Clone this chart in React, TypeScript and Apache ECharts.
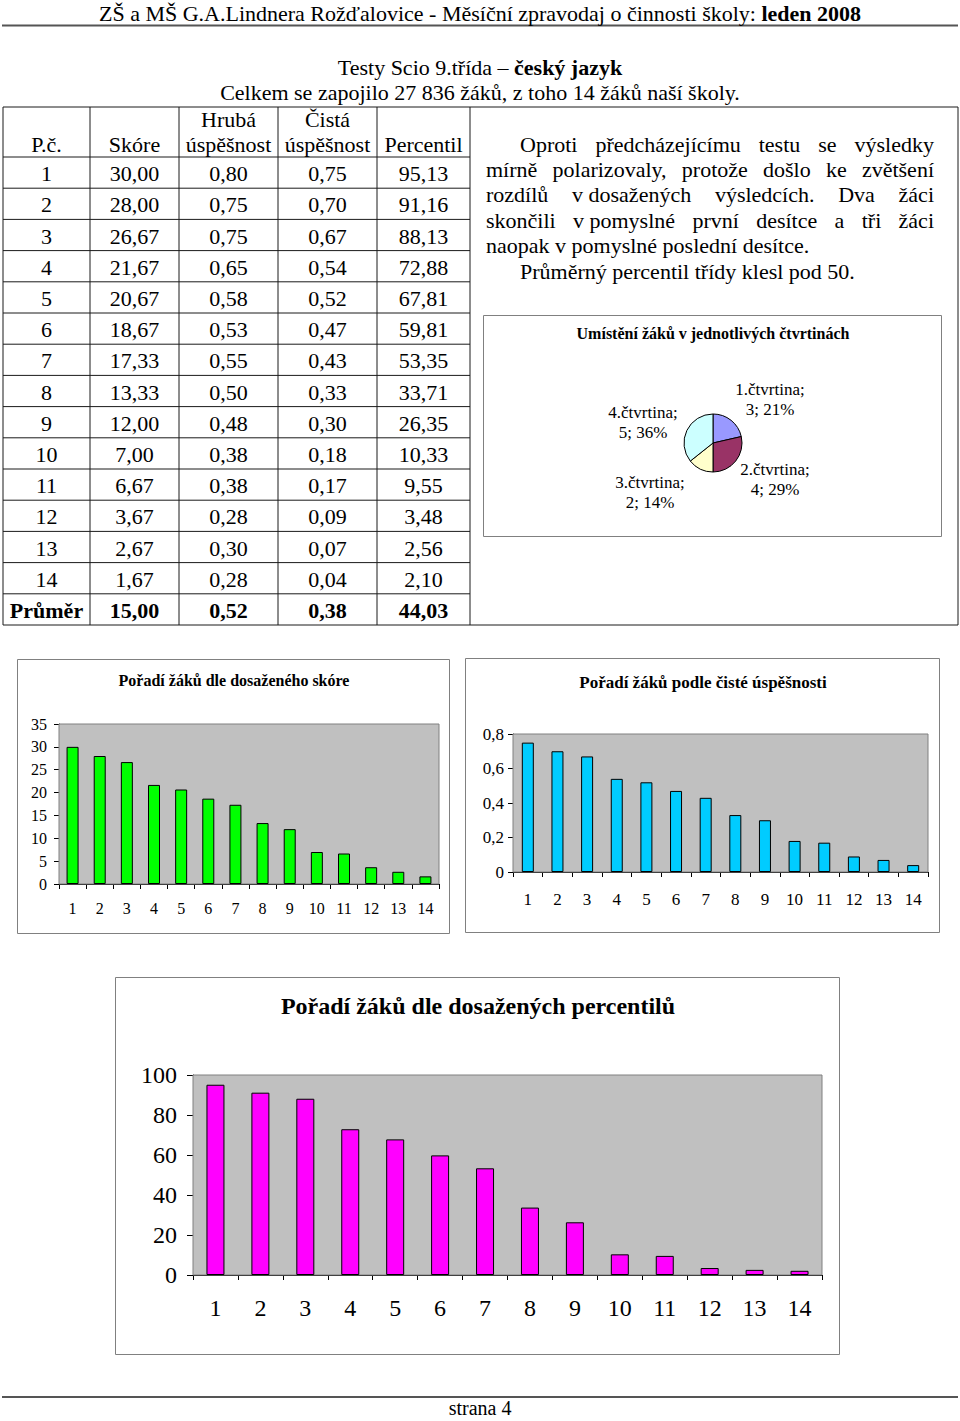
import React, { useEffect, useRef } from "react";
import * as echarts from "echarts";

const FONT = '"Liberation Serif", "Times New Roman", serif';

// ---------- data ----------
const HEADER_NORMAL = "ZŠ a MŠ G.A.Lindnera Rožďalovice - Měsíční zpravodaj o činnosti školy: ";
const HEADER_BOLD = "leden 2008";
const TITLE_NORMAL = "Testy Scio 9.třída – ";
const TITLE_BOLD = "český jazyk";
const SUBTITLE = "Celkem se zapojilo 27 836 žáků, z toho 14 žáků naší školy.";
const FOOTER = "strana 4";

const TABLE_HEAD = [["P.č."], ["Skóre"], ["Hrubá", "úspěšnost"], ["Čistá", "úspěšnost"], ["Percentil"]];
const ORDER = ["1", "2", "3", "4", "5", "6", "7", "8", "9", "10", "11", "12", "13", "14"];
const SCORE = [30.0, 28.0, 26.67, 21.67, 20.67, 18.67, 17.33, 13.33, 12.0, 7.0, 6.67, 3.67, 2.67, 1.67];
const HRUBA = [0.8, 0.75, 0.75, 0.65, 0.58, 0.53, 0.55, 0.5, 0.48, 0.38, 0.38, 0.28, 0.3, 0.28];
const CISTA = [0.75, 0.7, 0.67, 0.54, 0.52, 0.47, 0.43, 0.33, 0.3, 0.18, 0.17, 0.09, 0.07, 0.04];
const PERCENTIL = [95.13, 91.16, 88.13, 72.88, 67.81, 59.81, 53.35, 33.71, 26.35, 10.33, 9.55, 3.48, 2.56, 2.1];
const AVERAGE_LABEL = "Průměr";
const AVERAGES = [15.0, 0.52, 0.38, 44.03];

const PARAGRAPH = [
  "Oproti předcházejícímu testu se výsledky",
  "mírně polarizovaly, protože došlo ke zvětšení",
  "rozdílů v\u00a0dosažených výsledcích. Dva žáci",
  "skončili v\u00a0pomyslné první desítce a tři žáci",
  "naopak v pomyslné poslední desítce.",
  "Průměrný percentil třídy klesl pod 50.",
];

const PIE_TITLE = "Umístění žáků v jednotlivých čtvrtinách";
const QUARTER_NAMES = ["1.čtvrtina", "2.čtvrtina", "3.čtvrtina", "4.čtvrtina"];
const QUARTER_COUNTS = [3, 4, 2, 5];
const QUARTER_COLORS = ["#9999FF", "#993366", "#FFFFCC", "#CCFFFF"];

const CHART1_TITLE = "Pořadí žáků dle dosaženého skóre";
const CHART2_TITLE = "Pořadí žáků podle čisté úspěšnosti";
const CHART3_TITLE = "Pořadí žáků dle dosažených percentilů";

// ---------- helpers ----------
const fmt = (v: number) => v.toFixed(2).replace(".", ",");
const BODY = 22;

function txt(text: string, x: number, y: number, size: number, opts: any = {}) {
  const align = opts.align || "center";
  return {
    type: "text",
    x,
    y,
    silent: true,
    z: 10,
    style: {
      text,
      fontSize: size,
      fontFamily: FONT,
      fontWeight: opts.bold ? "bold" : "normal",
      fill: "#000",
      align,
      textAlign: align,
      verticalAlign: "middle",
      textVerticalAlign: "middle",
      rich: opts.rich,
    },
  };
}

function ln(x1: number, y1: number, x2: number, y2: number, color = "#1a1a1a", w = 1) {
  return {
    type: "line",
    silent: true,
    z: 5,
    shape: { x1, y1, x2, y2 },
    style: { stroke: color, lineWidth: w },
  };
}

function box(x: number, y: number, w: number, h: number, color = "#808080") {
  return {
    type: "rect",
    silent: true,
    z: -1,
    shape: { x, y, width: w, height: h },
    style: { fill: "#ffffff", stroke: color, lineWidth: 1 },
  };
}

let measureCtx: CanvasRenderingContext2D | null = null;
function measure(text: string, font: string) {
  if (!measureCtx) measureCtx = document.createElement("canvas").getContext("2d");
  measureCtx!.font = font;
  return measureCtx!.measureText(text).width;
}

function buildParagraph(): any[] {
  const els: any[] = [];
  const left = 486;
  const right = 934;
  const indent = 34;
  const top = 144;
  const lh = 25.4;
  const font = `${BODY}px ${FONT}`;
  PARAGRAPH.forEach((line, i) => {
    const y = top + i * lh;
    const start = left + (i === 0 || i === 5 ? indent : 0);
    const justify = i < 4;
    const words = line.split(" ");
    if (!justify) {
      els.push(txt(line.replace(/\u00a0/g, " "), start, y, BODY, { align: "left" }));
      return;
    }
    const widths = words.map((w) => measure(w.replace(/\u00a0/g, " "), font));
    const total = widths.reduce((a, b) => a + b, 0);
    const gap = (right - start - total) / (words.length - 1);
    let x = start;
    words.forEach((w, k) => {
      els.push(txt(w.replace(/\u00a0/g, " "), x, y, BODY, { align: "left" }));
      x += widths[k] + gap;
    });
  });
  return els;
}

function buildTable(): any[] {
  const els: any[] = [];
  const colX = [3, 90, 179, 278, 377, 470];
  const right = 958;
  const top = 107;
  const headBottom = 157;
  const rowH = 31.2;
  const nRows = ORDER.length + 1;
  const bottom = headBottom + rowH * nRows;

  els.push(ln(colX[0], top, right, top));
  els.push(ln(colX[0], bottom, right, bottom));
  els.push(ln(colX[0], headBottom, colX[5], headBottom));
  for (let r = 1; r < nRows; r++) {
    const y = headBottom + rowH * r;
    els.push(ln(colX[0], y, colX[5], y));
  }
  colX.forEach((x) => els.push(ln(x, top, x, bottom)));
  els.push(ln(right, top, right, bottom));

  const centers = colX.slice(0, 5).map((x, i) => (x + colX[i + 1]) / 2);
  TABLE_HEAD.forEach((lines, c) => {
    if (lines.length === 1) els.push(txt(lines[0], centers[c], 144, BODY));
    else {
      els.push(txt(lines[0], centers[c], 119, BODY));
      els.push(txt(lines[1], centers[c], 144, BODY));
    }
  });
  ORDER.forEach((o, r) => {
    const y = headBottom + rowH * (r + 0.5) + 1;
    const cells = [o, fmt(SCORE[r]), fmt(HRUBA[r]), fmt(CISTA[r]), fmt(PERCENTIL[r])];
    cells.forEach((c, k) => els.push(txt(c, centers[k], y, BODY)));
  });
  const ya = headBottom + rowH * (ORDER.length + 0.5) + 1;
  const avgCells = [AVERAGE_LABEL, ...AVERAGES.map(fmt)];
  avgCells.forEach((c, k) => els.push(txt(c, centers[k], ya, BODY, { bold: true })));
  return els;
}

function barAxes(gridIndex: number, fontSize: number, labelMargin: number, max: number, interval: number, yMargin: number, tickLen: number, yFmt?: (v: number) => string) {
  const xAxis = {
    type: "category",
    gridIndex,
    data: ORDER,
    axisLine: { show: true, lineStyle: { color: "#000", width: 1 } },
    axisTick: { show: true, length: 5, lineStyle: { color: "#000" } },
    axisLabel: { fontSize, fontFamily: FONT, color: "#000", margin: labelMargin, interval: 0 },
    splitLine: { show: false },
  };
  const yAxis = {
    type: "value",
    gridIndex,
    min: 0,
    max,
    interval,
    axisLine: { show: true, lineStyle: { color: "#000", width: 1 } },
    axisTick: { show: true, length: tickLen, lineStyle: { color: "#000" } },
    axisLabel: { fontSize, fontFamily: FONT, color: "#000", margin: yMargin, formatter: yFmt },
    splitLine: { show: true, lineStyle: { color: "#808080", width: 1 } },
  };
  return { xAxis, yAxis };
}

function barSeries(idx: number, data: number[], color: string, width: number) {
  return {
    type: "bar",
    xAxisIndex: idx,
    yAxisIndex: idx,
    data,
    barWidth: width,
    itemStyle: { color, borderColor: "#000", borderWidth: 1 },
    silent: true,
  };
}

export default function App() {
  const ref = useRef<HTMLDivElement>(null);
  useEffect(() => {
    if (!ref.current) return;
    const chart = echarts.init(ref.current, null, { renderer: "svg" });

    const a1 = barAxes(0, 16, 16, 35, 5, 12, 5);
    const a2 = barAxes(1, 17, 19, 0.8, 0.2, 9, 5, (v: number) => (v === 0 ? "0" : Number(v.toFixed(1)).toString().replace(".", ",")));
    const a3 = barAxes(2, 24, 21, 100, 20, 16, 6);

    const pieCenter = [713, 443];
    // label centres relative to the pie centre (layout only)
    const labelOffsets = [
      [57, -44],
      [62, 36],
      [-63, 49],
      [-70, -21],
    ];

    const pieData = QUARTER_NAMES.map((n, i) => ({ name: n, value: QUARTER_COUNTS[i], itemStyle: { color: QUARTER_COLORS[i] } }));

    const graphics: any[] = [
      txt(`{n|${HEADER_NORMAL}}{b|${HEADER_BOLD}}`, 480, 13, 22, {
        rich: {
          n: { fontSize: 22, fontFamily: FONT, fill: "#000", color: "#000" },
          b: { fontSize: 22, fontFamily: FONT, fontWeight: "bold", fill: "#000", color: "#000" },
        },
      }),
      ln(2, 25.5, 958, 25.5, "#555", 2),
      txt(`{n|${TITLE_NORMAL}}{b|${TITLE_BOLD}}`, 480, 67, BODY, {
        rich: {
          n: { fontSize: BODY, fontFamily: FONT, fill: "#000", color: "#000" },
          b: { fontSize: BODY, fontFamily: FONT, fontWeight: "bold", fill: "#000", color: "#000" },
        },
      }),
      txt(SUBTITLE, 480, 92, BODY),
      ...buildTable(),
      ...buildParagraph(),
      box(483.5, 315.5, 458, 221),
      txt(PIE_TITLE, 713, 333, 16, { bold: true }),
      box(17.5, 659.5, 432, 274),
      txt(CHART1_TITLE, 234, 680, 16, { bold: true }),
      box(465.5, 658.5, 474, 274),
      txt(CHART2_TITLE, 703, 682, 17, { bold: true }),
      box(115.5, 977.5, 724, 377),
      txt(CHART3_TITLE, 478, 1006, 24, { bold: true }),
      ln(2, 1397, 958, 1397, "#555", 2),
      txt(FOOTER, 480, 1408, 20),
    ];

    chart.setOption({
      animation: false,
      textStyle: { fontFamily: FONT },
      grid: [
        { left: 59, top: 724, width: 380, height: 160, show: true, backgroundColor: "#C0C0C0", borderColor: "#808080", borderWidth: 1, z: 1 },
        { left: 513, top: 734, width: 415, height: 138, show: true, backgroundColor: "#C0C0C0", borderColor: "#808080", borderWidth: 1, z: 1 },
        { left: 193, top: 1075, width: 629, height: 200, show: true, backgroundColor: "#C0C0C0", borderColor: "#808080", borderWidth: 1, z: 1 },
      ],
      xAxis: [a1.xAxis, a2.xAxis, a3.xAxis],
      yAxis: [a1.yAxis, a2.yAxis, a3.yAxis],
      series: [
        barSeries(0, SCORE, "#00FF00", 12),
        barSeries(1, CISTA, "#00CCFF", 12),
        barSeries(2, PERCENTIL, "#FF00FF", 18),
        {
          type: "pie",
          center: pieCenter,
          radius: 29,
          startAngle: 90,
          clockwise: true,
          percentPrecision: 0,
          silent: true,
          data: pieData,
          itemStyle: { borderColor: "#000", borderWidth: 1 },
          label: {
            show: true,
            position: "outside",
            formatter: "{b};\n{c}; {d}%",
            fontSize: 17,
            lineHeight: 20,
            fontFamily: FONT,
            color: "#000",
          },
          labelLine: { show: false, length: 14, length2: 4 },
          labelLayout: (p: any) => ({
            x: pieCenter[0] + labelOffsets[p.dataIndex][0],
            y: pieCenter[1] + labelOffsets[p.dataIndex][1],
            align: "center",
            verticalAlign: "middle",
          }),
        },
      ],
      graphic: { elements: graphics },
    });
    return () => chart.dispose();
  }, []);
  return <div ref={ref} style={{ position: "absolute", left: 0, top: 0, width: 960, height: 1421, background: "#fff" }} />;
}
